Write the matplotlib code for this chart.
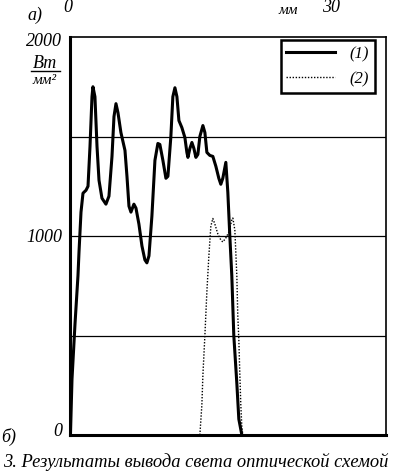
import matplotlib.pyplot as plt
from matplotlib.lines import Line2D

# curve (1): position along the line, mm / power density, W/mm^2
x1 = [0.05, 0.23, 0.58, 0.92, 1.04, 1.27, 1.50, 1.85, 2.08, 2.31, 2.54, 2.65, 2.88, 3.12,
      3.35, 3.69, 4.15, 4.50, 4.85, 5.08, 5.31, 5.54, 5.88, 6.35, 6.58, 6.81, 7.04, 7.38,
      7.62, 7.96, 8.31, 8.65, 8.88, 9.12, 9.46, 9.81, 10.15, 10.38, 10.73, 11.08, 11.31,
      11.65, 11.88, 12.12, 12.35, 12.58, 12.92, 13.27, 13.50, 13.62, 13.85, 14.08, 14.31,
      14.54, 14.77, 15.00, 15.35, 15.58, 15.81, 16.15, 16.50, 16.85, 17.19, 17.42, 17.65,
      18.00, 18.23, 18.46, 18.69, 18.92, 19.27, 19.50, 19.85]
y1 = [0, 280, 560, 800, 920, 1120, 1215, 1230, 1250, 1450, 1700, 1750, 1700, 1450,
      1280, 1190, 1160, 1200, 1400, 1600, 1665, 1620, 1520, 1430, 1300, 1150, 1120, 1160,
      1140, 1060, 950, 880, 865, 900, 1100, 1380, 1465, 1460, 1380, 1290, 1300,
      1500, 1700, 1745, 1700, 1580, 1545, 1495, 1420, 1395, 1440, 1470, 1440,
      1395, 1410, 1500, 1555, 1520, 1420, 1405, 1400, 1350, 1290, 1260, 1290,
      1370, 1220, 1000, 800, 500, 260, 80, 0]

# curve (2)
x2 = [15.00, 15.23, 15.35, 15.58, 15.81, 16.04, 16.27, 16.50, 16.73, 17.08, 17.42, 17.65,
      18.00, 18.35, 18.69, 18.81, 19.04, 19.27, 19.38, 19.50, 19.62, 19.73, 19.85, 19.96]
y2 = [0, 150, 300, 500, 720, 900, 1050, 1088, 1060, 1010, 980, 970,
      990, 1020, 1080, 1090, 1030, 800, 600, 480, 300, 150, 40, 0]

grid_levels = [500, 1000, 1500]
ytick_labels = ['0', '1000', '2000']
legend_labels = ['(1)', '(2)']
caption = '3. Результаты вывода света оптической схемой'

W, H = 396, 472
fig = plt.figure(figsize=(W / 100, H / 100), dpi=100)
ax = fig.add_axes([70 / W, 1 - 435 / H, 316 / W, 398 / H])

serif = ['Liberation Serif', 'DejaVu Serif']
fs = 13

for g in grid_levels:
    ax.axhline(g, color='black', lw=0.9, zorder=1)

ax.plot(x1, y1, color='black', lw=2.2, solid_joinstyle='round', label=legend_labels[0], zorder=3)
ax.plot(x2, y2, color='black', lw=1.0, linestyle=(0, (1, 1.2)), label=legend_labels[1], zorder=2)

ax.set_xlim(0, 36.5)
ax.set_ylim(0, 2000)
ax.set_xticks([])
ax.set_yticks([])
for side in ['left', 'bottom']:
    ax.spines[side].set_linewidth(2.2)
for side in ['top', 'right']:
    ax.spines[side].set_linewidth(1.2)

leg = ax.legend(loc='upper right', bbox_to_anchor=(0.965, 0.992), borderaxespad=0,
                fancybox=False, framealpha=1, edgecolor='black', handlelength=2.9,
                handletextpad=0.9, borderpad=0.35, labelspacing=0.55,
                prop={'family': serif, 'style': 'italic', 'size': 12})
leg.get_frame().set_linewidth(1.8)


def px_text(x, y, s, ha='left', size=fs, **kw):
    fig.text(x / W, 1 - y / H, s, ha=ha, va='center', family=serif, style='italic',
             size=size, **kw)


# y tick labels
px_text(62, 432, ytick_labels[0], ha='right')
px_text(62, 237, ytick_labels[1], ha='right')
px_text(62, 42, ytick_labels[2], ha='right')

# units
px_text(45, 63, 'Вт', ha='center')
fig.add_artist(Line2D([31 / W, 60 / W], [1 - 71 / H, 1 - 71 / H], color='black', lw=1.0))
px_text(44, 81, 'мм²', ha='center', size=11)

# top annotations
px_text(35, 15, 'а)', ha='center')
px_text(68, 7, '0', ha='center')
px_text(288, 10, 'мм', ha='center', size=11)
px_text(331, 7, '30', ha='center')
px_text(9, 437, 'б)', ha='center')

fig.text(3 / W, 1 - 462 / H, caption, ha='left', va='center', family=serif,
         style='italic', size=13.3)

fig.savefig('out.png', dpi=100)
